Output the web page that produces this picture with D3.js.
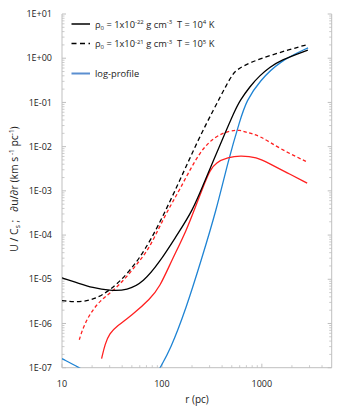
<!DOCTYPE html>
<html><head><meta charset="utf-8">
<script src="https://cdn.jsdelivr.net/npm/d3@7"></script>
<style>body{margin:0;background:#fff}svg{display:block}text{font-family:"Open Sans",sans-serif;fill:#222}</style>
</head><body>
<svg id="c" width="353" height="410"></svg>
<script>
// ---- data (r in pc, value) ----
const blackSolidR = [10, 15, 20, 30, 45, 65, 95.5, 138, 204, 269, 398, 537, 603, 759, 955, 1202, 1514, 2884];
const blackSolidV = [1.08e-5, 8.0e-6, 6.5e-6, 5.5e-6, 5.6e-6, 8.5e-6, 2.5e-5, 9.2e-5, 3.6e-4, 1.7e-3, 1.37e-2, 6.6e-2, 0.11, 0.229, 0.41, 0.62, 0.89, 1.53];
const blackDashR = [10, 15, 21, 30, 46, 76, 151, 229, 326, 447, 500, 556, 760, 1200, 1900, 2880];
const blackDashV = [3.3e-6, 3.0e-6, 3.5e-6, 5.5e-6, 1.35e-5, 6.4e-5, 1.7e-3, 1.4e-2, 6.6e-2, 0.26, 0.40, 0.55, 0.80, 1.15, 1.57, 2.05];
const redSolidR = [24.9, 27, 30, 35, 52, 76, 95, 125, 176, 222, 269, 302, 347, 457, 603, 886, 1200, 1770, 2840];
const redSolidV = [1.6e-7, 3.5e-7, 6.0e-7, 8.5e-7, 1.65e-6, 3.6e-6, 6.6e-6, 2.65e-5, 1.26e-4, 5.1e-4, 1.54e-3, 2.9e-3, 4.4e-3, 5.7e-3, 6.3e-3, 5.8e-3, 4.1e-3, 2.6e-3, 1.5e-3];
const redDashR = [14.9, 16.3, 19, 24, 32.6, 44, 60, 76, 107, 151, 240, 350, 479, 603, 700, 955, 1514, 2900];
const redDashV = [4.3e-7, 8.2e-7, 1.65e-6, 3.3e-6, 5.5e-6, 1.1e-5, 2.65e-5, 5.3e-5, 2.8e-4, 1.06e-3, 8.2e-3, 0.0178, 0.023, 0.024, 0.021, 0.0178, 8.9e-3, 4.4e-3];
const blueR1 = [10, 15, 18];
const blueV1 = [1.6e-7, 1.0e-7, 7.5e-8];
const blueR2 = [85, 95.5, 120, 176, 246, 350, 461, 603, 700, 955, 1514, 2900];
const blueV2 = [6e-8, 1.0e-7, 2.4e-7, 2.3e-6, 2.6e-5, 3.6e-4, 4.9e-3, 0.039, 0.11, 0.31, 0.86, 1.72];

const xTicks = [10, 100, 1000];
const xTickLabels = ["10", "100", "1000"];
const yTicks = [10, 1, 0.1, 0.01, 1e-3, 1e-4, 1e-5, 1e-6, 1e-7];
const yTickLabels = ["1E+01", "1E+00", "1E-01", "1E-02", "1E-03", "1E-04", "1E-05", "1E-06", "1E-07"];

const svg = d3.select("#c");
const L = 62, R = 331.7, T = 14, B = 367.7;
const x = d3.scaleLog().domain([10, 5000]).range([L, R]);
const y = d3.scaleLog().domain([1e-7, 10]).range([B, T]);

const axisCol = "#bfbfbf";
const minorX = [], minorY = [];
for (let d = 10; d < 5000; d *= 10) for (let k = 2; k <= 9; k++) if (d * k < 5000) minorX.push(d * k);
for (let d = 1e-7; d < 10; d *= 10) for (let k = 2; k <= 9; k++) minorY.push(d * k);

const g = svg.append("g");
g.append("line").attr("x1", L).attr("x2", L).attr("y1", T).attr("y2", B).attr("stroke", axisCol);
g.append("line").attr("x1", R).attr("x2", R).attr("y1", T).attr("y2", B).attr("stroke", axisCol);
g.append("line").attr("x1", L).attr("x2", R).attr("y1", B).attr("y2", B).attr("stroke", axisCol);
yTicks.forEach(v => {
  g.append("line").attr("x1", L).attr("x2", L + 4).attr("y1", y(v)).attr("y2", y(v)).attr("stroke", axisCol);
  g.append("line").attr("x1", R - 4).attr("x2", R).attr("y1", y(v)).attr("y2", y(v)).attr("stroke", axisCol);
});
minorY.forEach(v => {
  g.append("line").attr("x1", L).attr("x2", L + 2.5).attr("y1", y(v)).attr("y2", y(v)).attr("stroke", axisCol).attr("stroke-width", 0.8);
  g.append("line").attr("x1", R - 2.5).attr("x2", R).attr("y1", y(v)).attr("y2", y(v)).attr("stroke", axisCol).attr("stroke-width", 0.8);
});
xTicks.forEach(v => g.append("line").attr("x1", x(v)).attr("x2", x(v)).attr("y1", B).attr("y2", B - 4).attr("stroke", axisCol));
minorX.forEach(v => g.append("line").attr("x1", x(v)).attr("x2", x(v)).attr("y1", B).attr("y2", B - 2.5).attr("stroke", axisCol).attr("stroke-width", 0.8));

yTicks.forEach((v, i) => g.append("text").attr("x", 52).attr("y", y(v)).attr("dy", "0.35em")
  .attr("text-anchor", "end").attr("font-size", 9).text(yTickLabels[i]));
xTicks.forEach((v, i) => g.append("text").attr("x", x(v)).attr("y", 386.5)
  .attr("text-anchor", "middle").attr("font-size", 9).text(xTickLabels[i]));
g.append("text").attr("x", 197).attr("y", 403).attr("text-anchor", "middle").attr("font-size", 10).text("r (pc)");

const yt = g.append("text").attr("transform", "translate(17.5,189) rotate(-90)").attr("text-anchor", "middle").attr("font-size", 10.4);
yt.append("tspan").text("U / C");
yt.append("tspan").attr("font-size", 6.5).attr("dy", 2).text("s");
yt.append("tspan").attr("dy", -2).text("\u00a0;\u00a0\u00a0\u00a0\u2202u/\u2202r (km s");
yt.append("tspan").attr("font-size", 6.5).attr("dy", -4).text("\u00a0-1");
yt.append("tspan").attr("dy", 4).text(" pc");
yt.append("tspan").attr("font-size", 6.5).attr("dy", -4).text("-1");
yt.append("tspan").attr("dy", 4).text(")");

svg.append("clipPath").attr("id", "clip").append("rect").attr("x", L).attr("y", T).attr("width", R - L).attr("height", B - T);
const pg = svg.append("g").attr("clip-path", "url(#clip)");
const line = d3.line().x(d => x(d[0])).y(d => y(d[1])).curve(d3.curveBasis);
function draw(rs, vs, col, dash, w) {
  const p = pg.append("path").datum(rs.map((r, i) => [r, vs[i]])).attr("d", line)
    .attr("fill", "none").attr("stroke", col).attr("stroke-width", w || 1.3);
  if (dash) p.attr("stroke-dasharray", dash);
}
const blue = "#1f84d4", red = "#ff2020";
draw(blueR1, blueV1, blue);
draw(blueR2, blueV2, blue);
draw(redSolidR, redSolidV, red);
draw(redDashR, redDashV, red, "3.5,2.5");
draw(blackSolidR, blackSolidV, "#000");
draw(blackDashR, blackDashV, "#000", "4.5,3");

const lg = svg.append("g");
const lx1 = 71.5, lx2 = 90, tx = 95;
lg.append("line").attr("x1", lx1).attr("x2", lx2).attr("y1", 24).attr("y2", 24).attr("stroke", "#000").attr("stroke-width", 1.5);
lg.append("line").attr("x1", lx1).attr("x2", lx2).attr("y1", 43.5).attr("y2", 43.5).attr("stroke", "#000").attr("stroke-width", 1.5).attr("stroke-dasharray", "5,3.5");
lg.append("line").attr("x1", lx1).attr("x2", lx2).attr("y1", 73.5).attr("y2", 73.5).attr("stroke", "#5b8fd0").attr("stroke-width", 2);
function legText(yy, e1, e2) {
  const t = lg.append("text").attr("x", tx).attr("y", yy).attr("font-size", 9.3);
  t.append("tspan").text("\u03c1");
  t.append("tspan").attr("font-size", 6).attr("dy", 2).text("0");
  t.append("tspan").attr("dy", -2).text("\u00a0= 1x10");
  t.append("tspan").attr("font-size", 6).attr("dy", -3.5).text(e1);
  t.append("tspan").attr("dy", 3.5).text("\u00a0g cm");
  t.append("tspan").attr("font-size", 6).attr("dy", -3.5).text("-3");
  t.append("tspan").attr("dy", 3.5).text("\u00a0\u00a0T = 10");
  t.append("tspan").attr("font-size", 6).attr("dy", -3.5).text(e2);
  t.append("tspan").attr("dy", 3.5).text("\u00a0K");
}
legText(27.5, "-22", "4");
legText(47, "-21", "5");
lg.append("text").attr("x", tx).attr("y", 77).attr("font-size", 9.3).text("log-profile");
</script>
</body></html>
